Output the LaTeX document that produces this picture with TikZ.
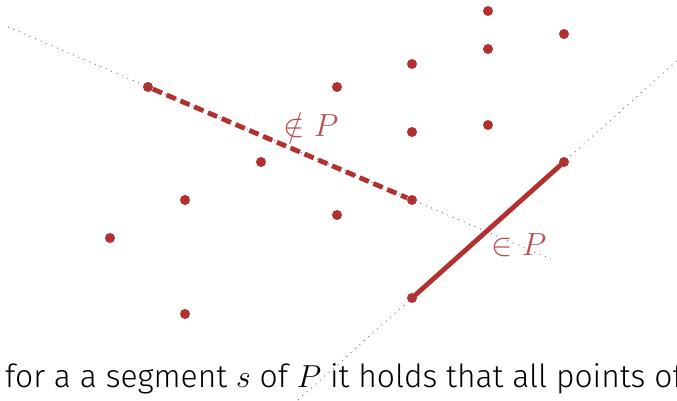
\RequirePackage{fix-cm}
\documentclass[tikz,border=0pt]{standalone}
\usepackage{fontspec}
\setmainfont{Fira Sans Light}
\begin{document}
\begin{tikzpicture}[x=1pt,y=-1pt,
  pt/.style={circle,fill=myred,inner sep=0pt,minimum size=10pt},
  guide/.style={draw=gray!80!black,line width=0.9pt,dash pattern=on 0.9pt off 5pt},
  seg/.style={draw=myred,line width=4.8pt},
  lab/.style={text=myred!85,font=\fontsize{32}{34}\selectfont}]
\definecolor{myred}{RGB}{178,48,48}
\useasboundingbox (0,0) rectangle (677,401);
\clip (0,0) rectangle (677,401);
% points
\node[pt] (p1) at (488,11) {};
\node[pt] (p2) at (564,34) {};
\node[pt] (p3) at (488,49) {};
\node[pt] (p4) at (412,64) {};
\node[pt] (p5) at (337,87) {};
\node[pt] (a) at (148,87) {};
\node[pt] (p7) at (412,132) {};
\node[pt] (p8) at (488,125) {};
\node[pt] (p9) at (261,162) {};
\node[pt] (c) at (564,162) {};
\node[pt] (p11) at (185,200) {};
\node[pt] (b) at (412,200) {};
\node[pt] (p13) at (337,215) {};
\node[pt] (p14) at (110,238) {};
\node[pt] (d) at (412,298) {};
\node[pt] (p16) at (185,314) {};
% guide lines
\coordinate (a0) at (8,27);
\coordinate (b0) at (551,259);
\coordinate (c0) at (680,58);
\coordinate (d0) at (298,400);
\draw[guide] (a0) -- (b0);
\draw[guide] (d0) -- (c0);
% segments
\draw[seg,dash pattern=on 10pt off 5pt] (a) -- (b);
\draw[seg,line cap=round] (d) -- (c);
% labels
\node[lab] (l1) at (311,125) {$\notin P$};
\node[lab] (l2) at (519,245) {$\in P$};
% caption
\node[anchor=base west,inner sep=0pt,font=\fontsize{31.8}{34}\selectfont] (cap) at (5,387) {for a a segment $s$ of $P$ it holds that all points of};
\end{tikzpicture}
\end{document}
